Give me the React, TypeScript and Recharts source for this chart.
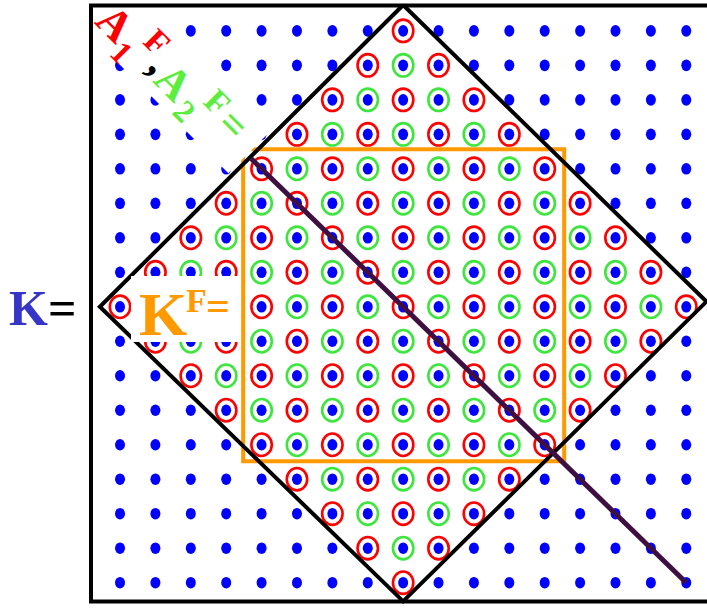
import React from 'react';
import { ScatterChart, Scatter, XAxis, YAxis } from 'recharts';

// lattice columns / rows (unit steps)
const latticeX = [-8, -7, -6, -5, -4, -3, -2, -1, 0, 1, 2, 3, 4, 5, 6, 7, 8];
const latticeY = [8, 7, 6, 5, 4, 3, 2, 1, 0, -1, -2, -3, -4, -5, -6, -7, -8];
// how far each row (top to bottom) is circled on either side of x = 0
const ringHalfWidth = [0, 1, 2, 3, 4, 5, 6, 7, 8, 7, 6, 5, 4, 3, 2, 1, 0];

// outlines
const diamondX = [0, 8.57, 0, -8.57, 0];
const diamondY = [8.75, 0.15, -8.54, 0, 8.75];
const squareX = [-4.52, 4.55, 4.55, -4.52, -4.52];
const squareY = [4.57, 4.57, -4.48, -4.48, 4.57];
const pathX = [-4.3, 8];
const pathY = [4.3, -8];

const toPts = (xs: number[], ys: number[]) => xs.map((x, i) => ({ x, y: ys[i] }));

const dots = latticeY.flatMap((y) => latticeX.map((x) => ({ x, y })));
const rings = latticeY.flatMap((y, r) =>
  latticeX.filter((x) => Math.abs(x) <= ringHalfWidth[r]).map((x) => ({ x, y }))
);
const redRings = rings.filter((p) => Math.abs(p.x + p.y) % 2 === 0);
const greenRings = rings.filter((p) => Math.abs(p.x + p.y) % 2 === 1);

const RED = '#ff0000';
const GREEN = '#3de63d';
const LABEL_GREEN = '#5cee3c';
const ORANGE = '#ff9900';
const SERIF = '"Liberation Serif", "Times New Roman", serif';

const BlueDot = (p: any) => <ellipse cx={p.cx} cy={p.cy} rx={5} ry={5.8} fill="#0000ff" />;
const ring = (color: string) => (p: any) => (
  <ellipse cx={p.cx} cy={p.cy} rx={10.2} ry={11.2} fill="none" stroke={color} strokeWidth={2.6} />
);
const noShape = () => <g />;

export default function App() {
  return (
    <div style={{ position: 'absolute', left: 0, top: 0, width: 707, height: 608, overflow: 'hidden', background: '#fff' }}>
      <ScatterChart width={720} height={608} margin={{ top: 5, right: 4, bottom: 6, left: 91 }}>
        <XAxis type="number" dataKey="x" domain={[-8.82, 8.84]} hide />
        <YAxis type="number" dataKey="y" domain={[-8.56, 8.72]} hide />
        <Scatter data={dots} shape={BlueDot} isAnimationActive={false} />
        <Scatter data={redRings} shape={ring(RED)} isAnimationActive={false} />
        <Scatter data={greenRings} shape={ring(GREEN)} isAnimationActive={false} />
        <Scatter
          data={toPts(squareX, squareY)}
          shape={noShape}
          line={{ stroke: ORANGE, strokeWidth: 4, strokeLinejoin: 'miter' }}
          lineJointType="linear"
          isAnimationActive={false}
        />
        <Scatter
          data={toPts(diamondX, diamondY)}
          shape={noShape}
          line={{ stroke: '#000', strokeWidth: 4, strokeLinejoin: 'miter' }}
          lineJointType="linear"
          isAnimationActive={false}
        />
        <Scatter
          data={toPts(pathX, pathY)}
          shape={noShape}
          line={{ stroke: '#3e1042', strokeWidth: 5 }}
          lineJointType="linear"
          isAnimationActive={false}
        />
      </ScatterChart>

      <svg width={707} height={608} style={{ position: 'absolute', left: 0, top: 0 }}>
        {/* diagonal label A1^F, A2^F = */}
        <g transform="rotate(45)">
          <rect x={74} y={-100} width={210} height={61} fill="#fff" />
          <g fontFamily={SERIF} fontWeight="bold" textAnchor="middle">
            <text x={98} y={-50} fontSize={44} fill={RED}>A</text>
            <text x={123} y={-38} fontSize={32} fill={RED}>1</text>
            <text x={141} y={-70} fontSize={34} fill={RED}>F</text>
            <text x={157} y={-55} fontSize={44} fill="#000">,</text>
            <text x={181} y={-50} fontSize={44} fill={LABEL_GREEN}>A</text>
            <text x={209} y={-41} fontSize={32} fill={LABEL_GREEN}>2</text>
            <text x={226} y={-70} fontSize={34} fill={LABEL_GREEN}>F</text>
            <text x={253} y={-63} fontSize={42} fill={LABEL_GREEN}>=</text>
          </g>
        </g>

        {/* K^F = */}
        <rect x={131} y={276} width={110} height={66} fill="#fff" />
        <g fontFamily={SERIF} fontWeight="bold" fill={ORANGE}>
          <text x={139} y={335} fontSize={62}>K</text>
          <text x={186} y={312} fontSize={34}>F</text>
          <text x={206} y={320} fontSize={42}>=</text>
        </g>

        {/* K = */}
        <text x={9} y={325} fontFamily={SERIF} fontWeight="bold" fontSize={50}>
          <tspan fill="#3535c8">K</tspan>
          <tspan fill="#000">=</tspan>
        </text>

        {/* plot frame */}
        <rect x={91} y={5.5} width={626} height={596} fill="none" stroke="#000" strokeWidth={4} />
      </svg>
    </div>
  );
}
